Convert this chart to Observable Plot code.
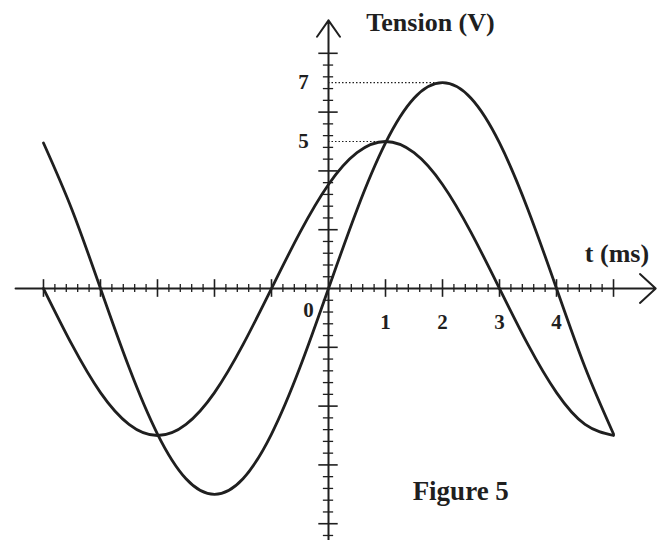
<!DOCTYPE html>
<html><head><meta charset="utf-8">
<script src="https://cdn.jsdelivr.net/npm/d3@7"></script>
<script src="https://cdn.jsdelivr.net/npm/@observablehq/plot@0.6"></script>
<style>body{margin:0;background:#fff}</style>
</head><body><div id="chart"></div>
<script>
// time samples (ms)
const times = [-5,-4.5,-4,-3.5,-3,-2.5,-2,-1.5,-1,-0.5,0,0.5,1,1.5,2,2.5,3,3.5,4,4.5,5];
// curve with 7 V peak (V)
const tension1 = [4.95,2.68,0,-2.68,-4.95,-6.47,-7,-6.47,-4.95,-2.68,0,2.68,4.95,6.47,7,6.47,4.95,2.68,0,-2.68,-4.95];
// curve with 5 V peak (V)
const tension2 = [0,-1.91,-3.54,-4.62,-5,-4.62,-3.54,-1.91,0,1.91,3.54,4.62,5,4.62,3.54,1.91,0,-1.91,-3.54,-4.62,-5];
// axis labels
const xTickValues = [1,2,3,4];
const yTickValues = [5,7];
const peakTimes = [1,2];
const xMajor = [-5,-4,-3,-2,-1,1,2,3,4,5];
const yMajor = [-8,-6,-4,-2,2,4,6,8];
const xMinor = d3.range(-50, 51, 2).map(d => d/10).filter(d => !Number.isInteger(d));
const yMinor = d3.range(-84, 81, 4).map(d => d/10).filter(d => d % 2 !== 0);

const curve1 = times.map((t,i) => ({t, v: tension1[i]}));
const curve2 = times.map((t,i) => ({t, v: tension2[i]}));
const peaks = yTickValues.map((v,i) => ({v, t: peakTimes[i]}));

const ink = "#1f1f1f";
const font = "Liberation Serif";

const chart = Plot.plot({
  width: 658, height: 540,
  margin: 0,
  x: {domain: [-5.754, 5.789], axis: null},
  y: {domain: [-8.571, 9.796], axis: null},
  style: {background: "#fff"},
  marks: [
    // dotted guides
    Plot.ruleY(peaks, {y: "v", x1: 0, x2: "t", stroke: ink, strokeWidth: 1.2, strokeDasharray: "1.5,2"}),
    // axes
    Plot.arrow([0], {x1: -5.49, y1: 0, x2: 5.74, y2: 0, stroke: ink, strokeWidth: 2, headAngle: 85, headLength: 16}),
    Plot.arrow([0], {x1: 0, y1: -8.7, x2: 0, y2: 9.12, stroke: ink, strokeWidth: 2, headAngle: 70, headLength: 15}),
    // x ticks
    Plot.ruleX(xMinor, {x: d => d, y1: -0.14, y2: 0.14, stroke: ink, strokeWidth: 1.3}),
    Plot.ruleX(xMajor, {x: d => d, y1: -0.3, y2: 0.3, stroke: ink, strokeWidth: 1.6}),
    // y ticks
    Plot.ruleY(yMinor, {y: d => d, x1: -0.09, x2: 0.09, stroke: ink, strokeWidth: 1.3}),
    Plot.ruleY(yMajor, {y: d => d, x1: -0.17, x2: 0.17, stroke: ink, strokeWidth: 1.6}),
    // curves
    Plot.line(curve1, {x: "t", y: "v", curve: "natural", stroke: ink, strokeWidth: 2.8}),
    Plot.line(curve2, {x: "t", y: "v", curve: "natural", stroke: ink, strokeWidth: 2.8}),
    // labels
    Plot.text(xTickValues, {x: d => d, y: 0, text: d => String(d), dy: 34, fontSize: 21, fontWeight: "bold", fontFamily: font, fill: ink}),
    Plot.text(["0"], {x: 0, y: 0, text: d => d, dx: -20, dy: 22, fontSize: 21, fontWeight: "bold", fontFamily: font, fill: ink}),
    Plot.text(yTickValues, {x: 0, y: d => d, text: d => String(d), dx: -25, fontSize: 21, fontWeight: "bold", fontFamily: font, fill: ink}),
    Plot.text(["Tension (V)"], {text: d => d, frameAnchor: "top-left", lineAnchor: "middle", dx: 430, dy: 22, textAnchor: "middle", fontSize: 26, fontWeight: "bold", fontFamily: font, fill: ink}),
    Plot.text(["t (ms)"], {x: 5.06, y: 0, text: d => d, dy: -35, textAnchor: "middle", fontSize: 26, fontWeight: "bold", fontFamily: font, fill: ink}),
    Plot.text(["Figure 5"], {x: 2.32, y: -6.9, text: d => d, textAnchor: "middle", fontSize: 27, fontWeight: "bold", fontFamily: font, fill: ink})
  ]
});
document.getElementById("chart").append(chart);
</script>
</body></html>
